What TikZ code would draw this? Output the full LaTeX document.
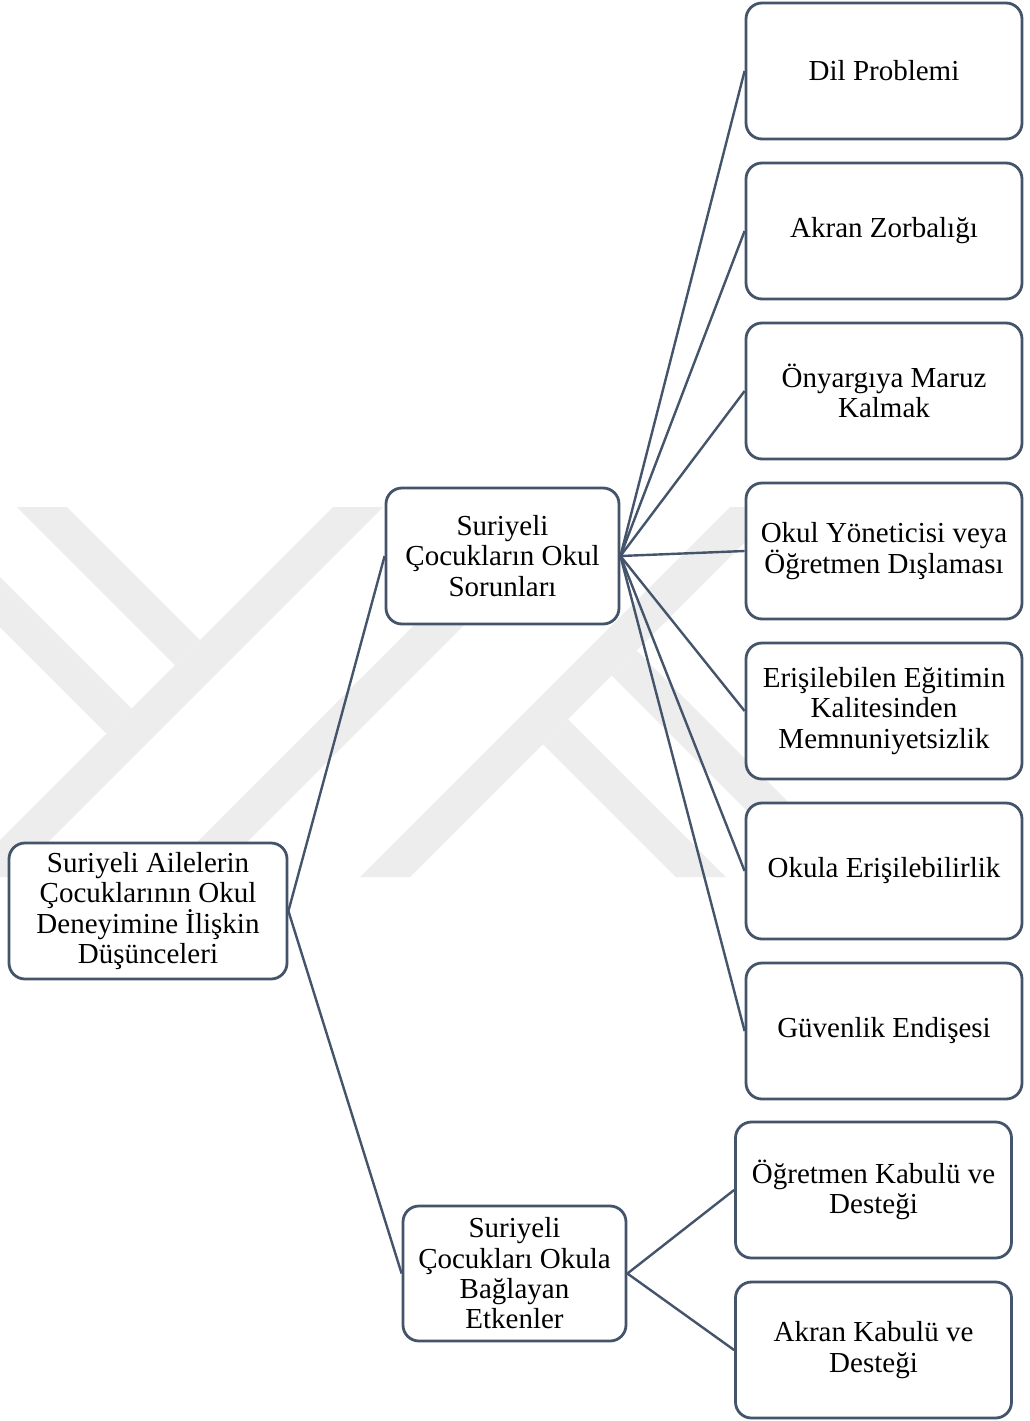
\documentclass[tikz,border=0pt]{standalone}
\usepackage{fontspec}
\setmainfont{Liberation Serif}
\definecolor{boxline}{HTML}{44546A}
\definecolor{wm}{HTML}{EDEDED}
\begin{document}
\begin{tikzpicture}[x=1pt,y=-1pt,
  box/.style={draw=boxline, line width=2.8pt, rounded corners=16pt, fill=white,
    align=center, inner sep=0pt, text=black, font=\fontsize{29}{30.3}\selectfont},
  rbox/.style={box, minimum width=276pt, minimum height=136pt},
  link/.style={draw=boxline, line width=2.4pt}]
\useasboundingbox (0,0) rectangle (1029,1421);
\fill[white] (0,0) rectangle (1029,1421);
% faint watermark
\begin{scope}
\clip (0,0) rectangle (1029,1421);
\fill[wm] (333,507) -- (383,507) -- (13,877) -- (-37,877) -- cycle;
\fill[wm] (532,507) -- (582,507) -- (212,877) -- (162,877) -- cycle;
\fill[wm] (730,507) -- (780,507) -- (410,877) -- (360,877) -- cycle;
\fill[wm] (17,507) -- (67,507) -- (200,640) -- (175,665) -- cycle;
\fill[wm] (-20,557) -- (131.5,708.5) -- (106.5,733.5) -- (-20,607) -- cycle;
\fill[wm] (568,719) -- (726,877) -- (676,877) -- (543,744) -- cycle;
\fill[wm] (636.5,650.5) -- (863,877) -- (813,877) -- (611.5,675.5) -- cycle;
\end{scope}
% nodes
\node[box, minimum width=278pt, minimum height=136pt] (root) at (148,911)
  {Suriyeli Ailelerin\\Çocuklarının Okul\\Deneyimine İlişkin\\Düşünceleri};
\node[box, minimum width=233pt, minimum height=136pt] (mid1) at (502.5,556)
  {Suriyeli\\Çocukların Okul\\Sorunları};
\node[box, minimum width=223pt, minimum height=135pt] (mid2) at (514.5,1273.5)
  {Suriyeli\\Çocukları Okula\\Bağlayan\\Etkenler};
\node[rbox] (p1) at (884,71) {Dil Problemi};
\node[rbox] (p2) at (884,231) {Akran Zorbalığı};
\node[rbox] (p3) at (884,391) {Önyargıya Maruz\\Kalmak};
\node[rbox] (p4) at (884,551) {Okul Yöneticisi veya\\Öğretmen Dışlaması};
\node[rbox] (p5) at (884,711) {Erişilebilen Eğitimin\\Kalitesinden\\Memnuniyetsizlik};
\node[rbox] (p6) at (884,871) {Okula Erişilebilirlik};
\node[rbox] (p7) at (884,1031) {Güvenlik Endişesi};
\node[rbox] (s1) at (873.5,1190) {Öğretmen Kabulü ve\\Desteği};
\node[rbox] (s2) at (873.5,1350) {Akran Kabulü ve\\Desteği};
% connectors
\draw[link] (root.east) -- (mid1.west);
\draw[link] (root.east) -- (mid2.west);
\foreach \n in {p1,p2,p3,p4,p5,p6,p7} \draw[link] (mid1.east) -- (\n.west);
\draw[link] (mid2.east) -- (s1.west);
\draw[link] (mid2.east) -- (s2.west);
\end{tikzpicture}
\end{document}
